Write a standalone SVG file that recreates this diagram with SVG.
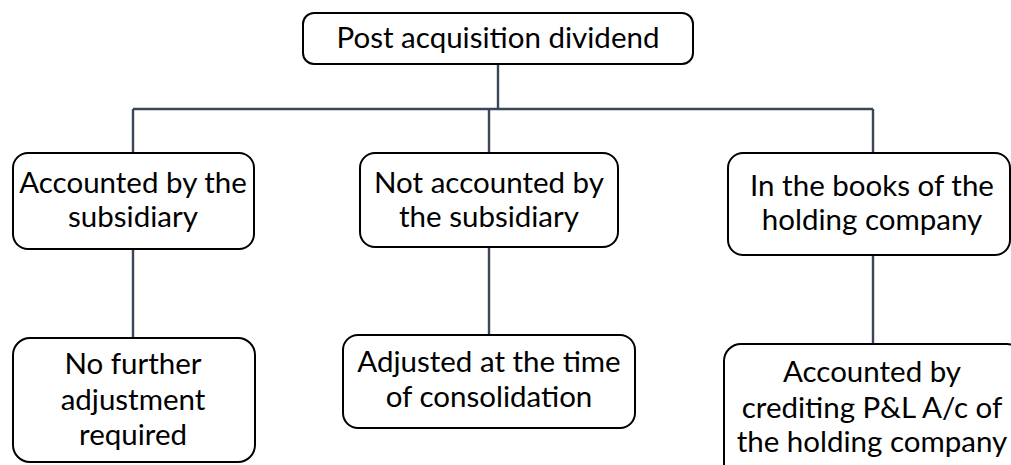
<svg xmlns="http://www.w3.org/2000/svg" width="1011" height="465" viewBox="0 0 1011 465">
  <style>
    .box { fill: #ffffff; stroke: #000000; stroke-width: 2; }
    .lbl { font-family: Lato, "Open Sans", "Liberation Sans", sans-serif; font-size: 29.5px; fill: #000000; text-anchor: middle; }
    .wire { fill: none; stroke: #3b4658; stroke-width: 2.4; }
  </style>
  <rect width="1011" height="465" fill="#ffffff"/>

  <!-- connectors -->
  <g id="connectors">
    <path class="wire" d="M498 64 V109"/>
    <path class="wire" d="M133 109 H873"/>
    <path class="wire" d="M133 109 V153"/>
    <path class="wire" d="M489 109 V153"/>
    <path class="wire" d="M873 109 V153"/>
    <path class="wire" d="M133 249 V338"/>
    <path class="wire" d="M489 247 V335"/>
    <path class="wire" d="M873 255 V344"/>
  </g>

  <g id="root">
    <rect class="box" x="303" y="13" width="390" height="51" rx="11"/>
    <text class="lbl" x="498" y="48">Post acquisition dividend</text>
  </g>

  <g id="accounted-sub">
    <rect class="box" x="13" y="153" width="241" height="96" rx="15"/>
    <text class="lbl" x="133" y="193">Accounted by the</text>
    <text class="lbl" x="133" y="227">subsidiary</text>
  </g>

  <g id="not-accounted-sub">
    <rect class="box" x="360" y="153" width="258" height="94" rx="15"/>
    <text class="lbl" x="489" y="193">Not accounted by</text>
    <text class="lbl" x="489" y="227">the subsidiary</text>
  </g>

  <g id="holding-books">
    <rect class="box" x="728" y="153" width="282" height="102" rx="15"/>
    <text class="lbl" x="872" y="196">In the books of the</text>
    <text class="lbl" x="872" y="230">holding company</text>
  </g>

  <g id="no-adjustment">
    <rect class="box" x="13" y="338" width="242" height="124" rx="17"/>
    <text class="lbl" x="133" y="374">No further</text>
    <text class="lbl" x="133" y="410">adjustment</text>
    <text class="lbl" x="133" y="445">required</text>
  </g>

  <g id="adjusted-consolidation">
    <rect class="box" x="343" y="335" width="292" height="93" rx="15"/>
    <text class="lbl" x="489" y="372">Adjusted at the time</text>
    <text class="lbl" x="489" y="407">of consolidation</text>
  </g>

  <g id="credit-pl">
    <rect class="box" x="724" y="344" width="300" height="140" rx="17"/>
    <text class="lbl" x="872" y="382">Accounted by</text>
    <text class="lbl" x="872" y="418">crediting P&amp;L A/c of</text>
    <text class="lbl" x="872" y="452">the holding company</text>
  </g>
</svg>
